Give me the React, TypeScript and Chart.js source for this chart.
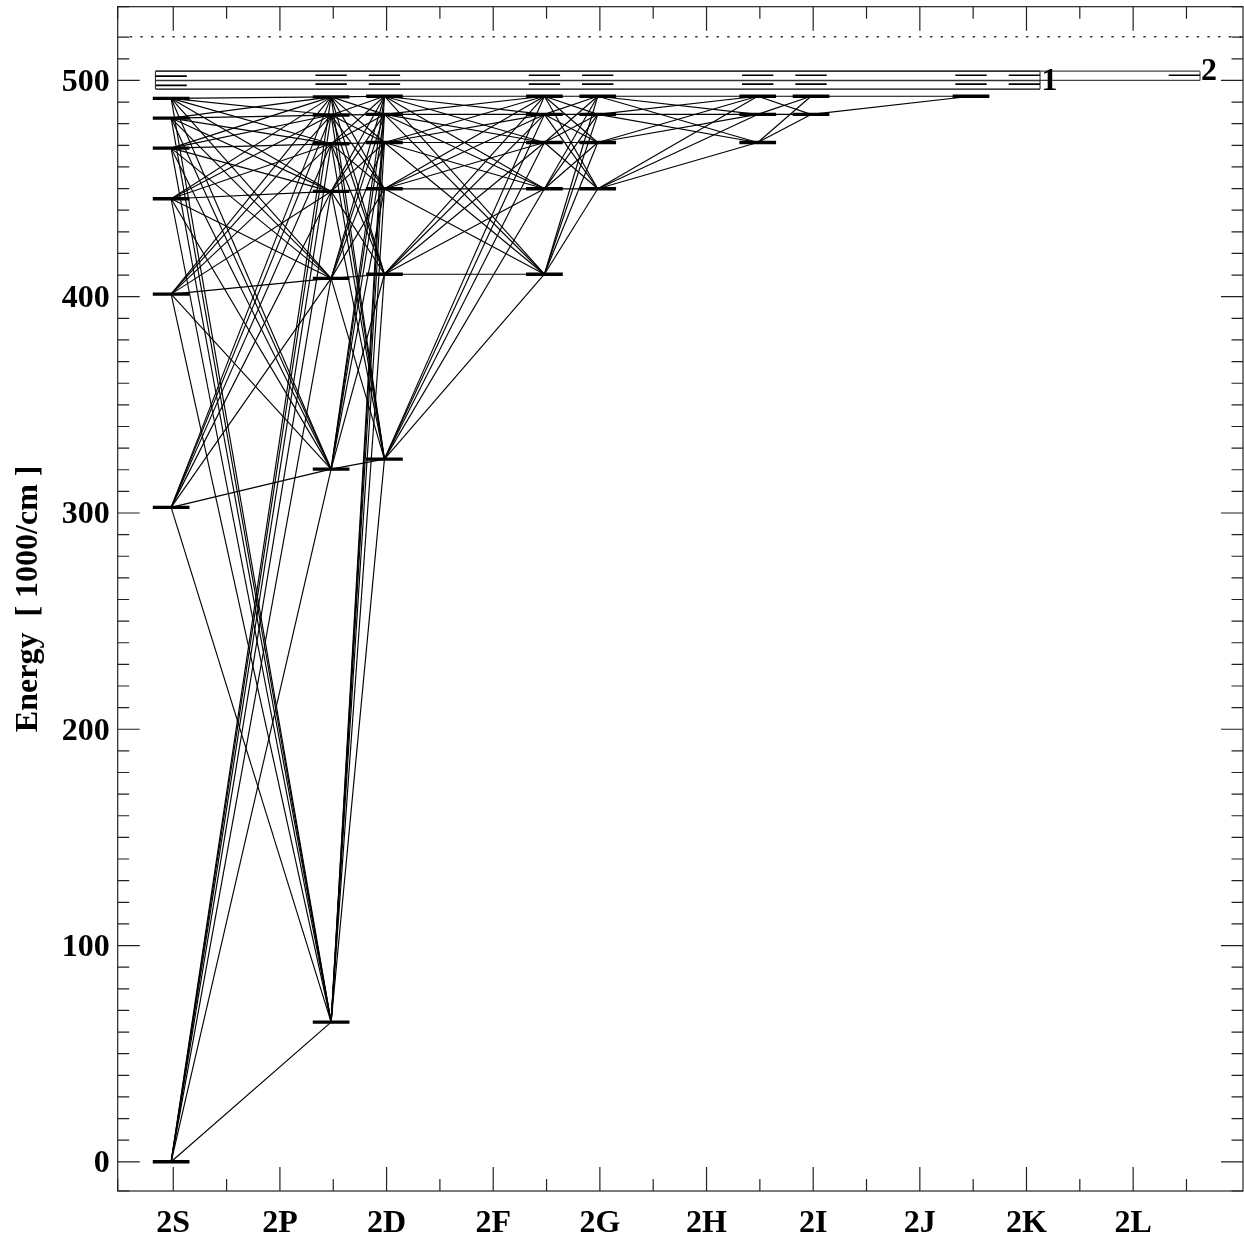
import React, { useEffect, useRef } from "react";
import { Chart, registerables } from "chart.js";

Chart.register(...registerables);

const categories = ["2S", "2P", "2D", "2F", "2G", "2H", "2I", "2J", "2K", "2L"];
const columnX = [-0.02, 1.48, 1.98, 3.48, 3.98, 5.48, 5.98, 7.48, 7.98, 9.48];

const levelsS = [0, 302.6, 401.2, 445.3, 468.7, 482.6, 491.7];
const levelsP = [64.6, 320.3, 408.5, 448.7, 470.7, 484, 492.4];
const levelsD = [324.9, 410.4, 449.9, 471.3, 484.3, 492.7];
const levelsF = [410.4, 449.9, 471.3, 484.3, 492.7];
const levelsG = [449.9, 471.3, 484.3, 492.7];
const levelsH = [471.3, 484.3, 492.7];
const levelsI = [484.3, 492.7];
const levelsJ = [492.7];
const boundLevels = [[502, 497.7], [502.4, 498.3], [502.4, 498.3], [502.4, 498.3], [502.4, 498.3], [502.4, 498.3], [502.4, 498.3], [502.4, 498.3], [502.4, 498.3], [502.4]];

const allColumns = [levelsS, levelsP, levelsD, levelsF, levelsG, levelsH, levelsI, levelsJ];
// transitions not present in the diagram: [lower column, lower energy, upper energy]
const missingTransitions: number[][] = [[4, 471.3, 471.3]];

const limit1 = [496, 500, 504.3];
const limit2 = [500, 504.3];
const ionLimit = 520.2;
const seriesLabels = ["1", "2"];
const lastXTick = 9.5;

const FONT = '"Liberation Serif", "Times New Roman", serif';

function makeDatasets() {
  const ds: any[] = [];
  const seg = (x0: number, y0: number, x1: number, y1: number, w: number, color = "#000") =>
    ds.push({
      data: [{ x: x0, y: y0 }, { x: x1, y: y1 }],
      showLine: true, borderColor: color, borderWidth: w, pointRadius: 0, borderCapStyle: "butt",
    });
  for (let c = 0; c < allColumns.length - 1; c++) {
    for (const a of allColumns[c]) {
      for (const b of allColumns[c + 1]) {
        if (missingTransitions.some((m) => m[0] === c && m[1] === a && m[2] === b)) continue;
        seg(columnX[c], a, columnX[c + 1], b, 1.15);
      }
    }
  }
  allColumns.forEach((col, c) => {
    col.forEach((e) => seg(columnX[c] - 0.172, e, columnX[c] + 0.172, e, 3.4));
  });
  boundLevels.forEach((col, c) => {
    col.forEach((e) => seg(columnX[c] - 0.147, e, columnX[c] + 0.147, e, 1.6));
  });
  const bl = columnX[0] - 0.147;
  const bm = columnX[8] + 0.147;
  const br = columnX[9] + 0.147;
  limit1.forEach((e, i) => seg(bl, e, bm, e, i === 0 ? 1.1 : 1.6, i === 0 ? "#000" : "#333"));
  seg(bl, limit1[0], bl, limit1[2], 1.1, "#333");
  seg(bm, limit1[0], bm, limit1[2], 1.1, "#333");
  limit2.forEach((e) => seg(bm, e, br, e, 1.3, "#444"));
  seg(br, limit2[0], br, limit2[1], 1.1, "#444");
  return ds;
}

const framePlugin = {
  id: "frame",
  afterDraw(chart: any) {
    const { ctx, chartArea: a, scales } = chart;
    const x = scales.x;
    const y = scales.y;
    ctx.save();
    ctx.strokeStyle = "#222";
    ctx.lineWidth = 1.2;
    ctx.strokeRect(a.left, a.top, a.right - a.left, a.bottom - a.top);
    ctx.beginPath();
    for (const t of x.ticks) {
      if (t.value > lastXTick) continue;
      const major = Math.abs(t.value - Math.round(t.value)) < 1e-6;
      const p = x.getPixelForValue(t.value);
      const len = major ? 24 : 12;
      ctx.moveTo(p, a.top); ctx.lineTo(p, a.top + len);
      ctx.moveTo(p, a.bottom); ctx.lineTo(p, a.bottom - len);
    }
    for (const t of y.ticks) {
      const major = Math.abs(t.value % 100) < 1e-6;
      const p = y.getPixelForValue(t.value);
      const len = major ? 22 : 11.5;
      ctx.moveTo(a.left, p); ctx.lineTo(a.left + len, p);
      ctx.moveTo(a.right, p); ctx.lineTo(a.right - len, p);
    }
    ctx.stroke();
    // dotted ionisation limit
    ctx.beginPath();
    ctx.setLineDash([2.4, 8.27]);
    ctx.lineWidth = 1.6;
    ctx.strokeStyle = "#333";
    const py = y.getPixelForValue(ionLimit);
    ctx.moveTo(a.left + 12, py); ctx.lineTo(a.right, py);
    ctx.stroke();
    ctx.setLineDash([]);
    // series numbers
    ctx.fillStyle = "#000";
    ctx.font = `bold 32px ${FONT}`;
    ctx.textAlign = "center";
    ctx.textBaseline = "alphabetic";
    ctx.fillText(seriesLabels[0], x.getPixelForValue(columnX[8] + 0.235), y.getPixelForValue(495.5));
    ctx.fillText(seriesLabels[1], x.getPixelForValue(columnX[9] + 0.231), y.getPixelForValue(500.4));
    ctx.restore();
  },
};

const noPadding = (s: any) => {
  s.paddingTop = 0;
  s.paddingBottom = 0;
  s.paddingLeft = 0;
  s.paddingRight = 0;
};

export default function App() {
  const ref = useRef<HTMLCanvasElement>(null);
  useEffect(() => {
    document.body.style.margin = "0";
    const chart = new Chart(ref.current!, {
      type: "scatter",
      data: { datasets: makeDatasets() },
      plugins: [framePlugin],
      options: {
        animation: false,
        responsive: false,
        devicePixelRatio: 1,
        layout: { padding: { top: 6.7, right: 1, left: 0, bottom: 0 } },
        plugins: { legend: { display: false }, tooltip: { enabled: false } },
        scales: {
          x: {
            type: "linear",
            min: -0.521,
            max: 10.03,
            grid: { display: false, drawTicks: false },
            border: { display: false },
            afterFit: (s: any) => { s.height = 48; noPadding(s); },
            ticks: {
              stepSize: 0.5,
              autoSkip: false,
              maxRotation: 0,
              padding: 14,
              color: "#000",
              font: { family: FONT, size: 32, weight: "bold" },
              callback: (v: any) => (Number.isInteger(v) && categories[v] ? categories[v] : ""),
            },
          },
          y: {
            type: "linear",
            min: -13.5,
            max: 534.1,
            grid: { display: false, drawTicks: false },
            border: { display: false },
            afterFit: (s: any) => { s.width = 117.7; noPadding(s); },
            title: {
              display: true,
              text: "Energy  [ 1000/cm ]",
              color: "#000",
              font: { family: FONT, size: 32, weight: "bold" },
              padding: { top: 10, bottom: 0 },
            },
            ticks: {
              stepSize: 10,
              autoSkip: false,
              padding: 8,
              labelOffset: 2,
              color: "#000",
              font: { family: FONT, size: 32, weight: "bold" },
              callback: (v: any) => (v % 100 === 0 ? String(v) : ""),
            },
          },
        },
      },
    } as any);
    return () => chart.destroy();
  }, []);
  return <canvas ref={ref} width={1244} height={1239} style={{ display: "block" }} />;
}
